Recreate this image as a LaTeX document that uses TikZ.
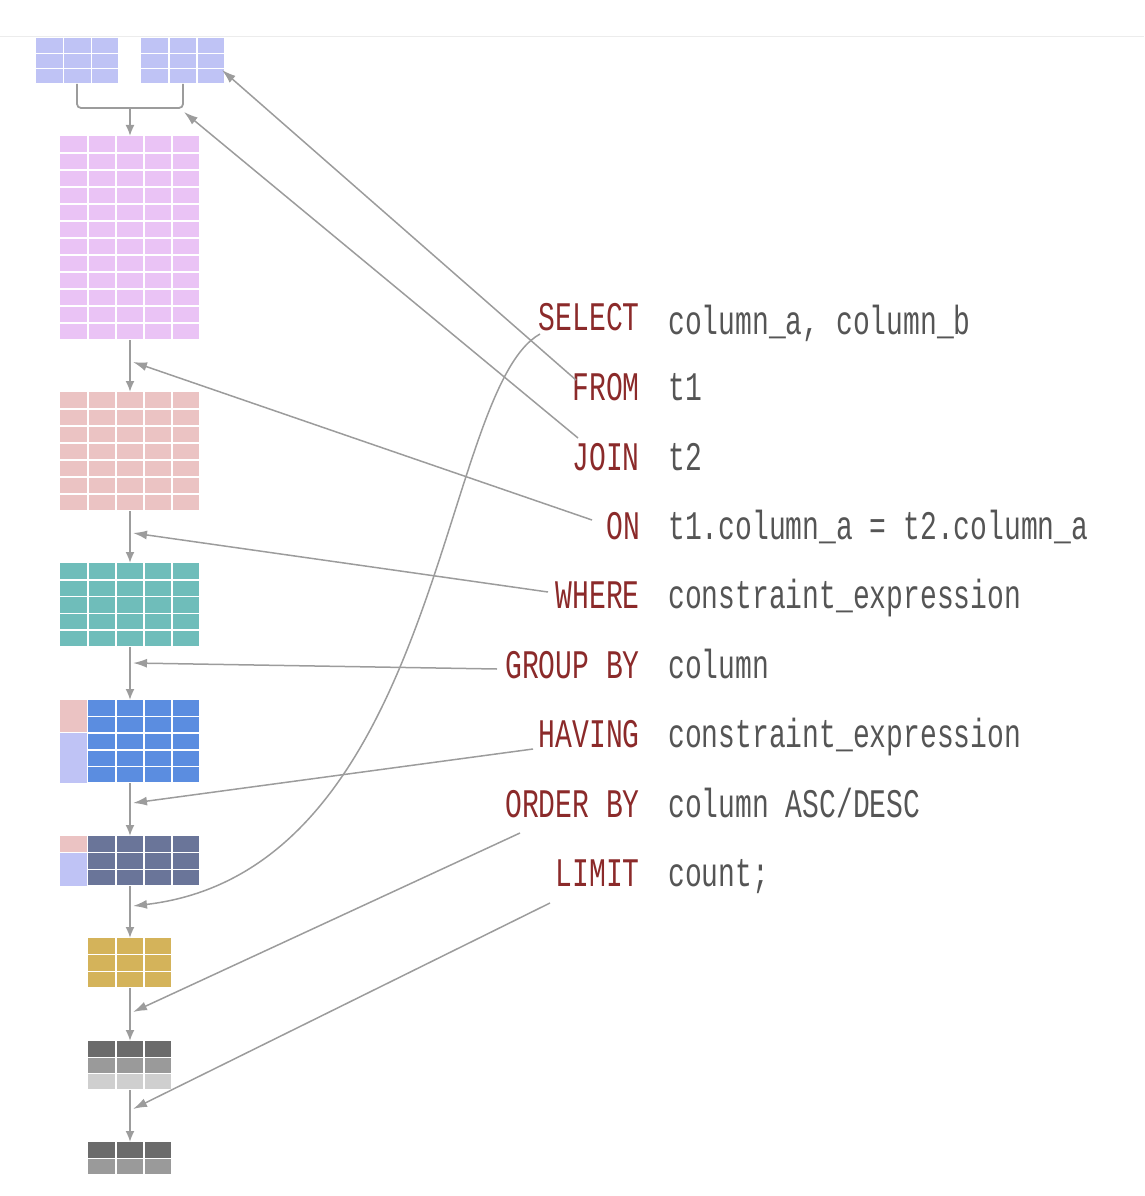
\documentclass[tikz,border=0pt]{standalone}
\usepackage{fontspec}
\setmonofont{Liberation Mono}
\usetikzlibrary{arrows.meta}
\definecolor{lav}{HTML}{BFC3F5}
\definecolor{pnk}{HTML}{EAC3F5}
\definecolor{sal}{HTML}{EBC3C3}
\definecolor{teal2}{HTML}{6FBDBA}
\definecolor{blu}{HTML}{5B8DE0}
\definecolor{slate}{HTML}{6A7599}
\definecolor{gold}{HTML}{D4B35A}
\definecolor{gA}{HTML}{6B6B6B}
\definecolor{gB}{HTML}{9A9A9A}
\definecolor{gC}{HTML}{CFCFCF}
\definecolor{arr}{HTML}{9C9C9C}
\definecolor{kwred}{HTML}{8B2A2A}
\definecolor{valg}{HTML}{555555}
% table: x, y, w, h, cols, rows, colour
\newcommand{\tbl}[7]{%
  \fill[#7] (#1,#2) rectangle ++(#3,#4);
  \foreach \i in {1,...,#5} \draw[white,line width=1.5pt] ({#1+\i*#3/#5},#2) -- ++(0,#4);
  \foreach \j in {1,...,#6} \draw[white,line width=1.5pt] (#1,{#2+\j*#4/#6}) -- ++(#3,0);
}
\newcommand{\qtxt}[1]{\scalebox{1}[1.45]{#1}}
\tikzset{
  kw/.style={anchor=base east, inner sep=0pt, text=kwred, font=\ttfamily\fontsize{28}{30}\selectfont},
  val/.style={anchor=base west, inner sep=0pt, text=valg, font=\ttfamily\fontsize{28}{30}\selectfont},
  flow/.style={arr, line width=1.8pt, -{Latex[length=11pt,width=9pt]}},
  link/.style={arr, line width=1.5pt, -{Latex[length=14pt,width=9pt]}}
}
\begin{document}
\begin{tikzpicture}[x=1pt,y=-1pt]
  \useasboundingbox (0,0) rectangle (1144,1196);
  \draw[gray!15] (0,36) -- (1144,36);

  % tables
  \tbl{36}{38}{83}{46}{3}{3}{lav}
  \tbl{141}{38}{84}{46}{3}{3}{lav}
  \tbl{60}{136}{140}{204}{5}{12}{pnk}
  \tbl{60}{392}{140}{119}{5}{7}{sal}
  \tbl{60}{563}{140}{84}{5}{5}{teal2}
  \fill[sal] (60,700) rectangle (87,732);
  \fill[lav] (60,733) rectangle (87,783);
  \tbl{88}{700}{112}{83}{4}{5}{blu}
  \fill[sal] (60,836) rectangle (87,852);
  \fill[lav] (60,853) rectangle (87,886);
  \tbl{88}{836}{112}{50}{4}{3}{slate}
  \tbl{88}{938}{84}{50}{3}{3}{gold}
  \fill[gA] (88,1041) rectangle (172,1057);
  \fill[gB] (88,1057) rectangle (172,1074);
  \fill[gC] (88,1074) rectangle (172,1090);
  \tbl{88}{1041}{84}{49}{3}{3}{white,opacity=0}
  \fill[gA] (88,1142) rectangle (172,1158);
  \fill[gB] (88,1158) rectangle (172,1175);
  \tbl{88}{1142}{84}{33}{3}{2}{white,opacity=0}

  % spine points
  \coordinate (t1) at (77,84);
  \coordinate (t2) at (183,84);
  \coordinate (mrg) at (130,108);
  \coordinate (s0) at (130,136);
  \coordinate (s1a) at (130,340); \coordinate (s1b) at (130,392);
  \coordinate (s2a) at (130,511); \coordinate (s2b) at (130,563);
  \coordinate (s3a) at (130,647); \coordinate (s3b) at (130,700);
  \coordinate (s4a) at (130,783); \coordinate (s4b) at (130,836);
  \coordinate (s5a) at (130,886); \coordinate (s5b) at (130,938);
  \coordinate (s6a) at (130,988); \coordinate (s6b) at (130,1041);
  \coordinate (s7a) at (130,1090); \coordinate (s7b) at (130,1142);

  \draw[arr, line width=1.8pt, rounded corners=4pt] (t1) |- (mrg) -| (t2);
  \draw[flow] (mrg) -- (s0);
  \foreach \k in {1,...,7} \draw[flow] (s\k a) -- (s\k b);

  % query text
  \node[kw] (select) at (640,330) {\qtxt{SELECT}};
  \node[val] (vselect) at (668,334) {\qtxt{column\_a, column\_b}};
  \node[kw] (from) at (640,400) {\qtxt{FROM}};
  \node[val] (vfrom) at (668,400) {\qtxt{t1}};
  \node[kw] (join) at (640,470) {\qtxt{JOIN}};
  \node[val] (vjoin) at (668,470) {\qtxt{t2}};
  \node[kw] (on) at (640,539) {\qtxt{ON}};
  \node[val] (von) at (668,539) {\qtxt{t1.column\_a = t2.column\_a}};
  \node[kw] (where) at (640,608) {\qtxt{WHERE}};
  \node[val] (vwhere) at (668,608) {\qtxt{constraint\_expression}};
  \node[kw] (group) at (640,678) {\qtxt{GROUP BY}};
  \node[val] (vgroup) at (668,678) {\qtxt{column}};
  \node[kw] (having) at (640,747) {\qtxt{HAVING}};
  \node[val] (vhaving) at (668,747) {\qtxt{constraint\_expression}};
  \node[kw] (order) at (640,817) {\qtxt{ORDER BY}};
  \node[val] (vorder) at (668,817) {\qtxt{column ASC/DESC}};
  \node[kw] (limit) at (640,886) {\qtxt{LIMIT}};
  \node[val] (vlimit) at (668,886) {\qtxt{count;}};

  % link ends
  \coordinate (selA) at (540,334);  \coordinate (selB) at (133,906);
  \coordinate (froA) at (576,380);  \coordinate (froB) at (222,70);
  \coordinate (joiA) at (578,438);  \coordinate (joiB) at (184,112);
  \coordinate (onA) at (592,520);   \coordinate (onB) at (133,362);
  \coordinate (whA) at (548,592);   \coordinate (whB) at (133,533);
  \coordinate (grA) at (497,669);   \coordinate (grB) at (133,663);
  \coordinate (haA) at (533,749);   \coordinate (haB) at (133,803);
  \coordinate (orA) at (520,833);   \coordinate (orB) at (133,1012);
  \coordinate (liA) at (550,903);   \coordinate (liB) at (133,1109);

  \draw[link] (selA) .. controls (440,390) and (440,870) .. (selB);
  \draw[link] (froA) -- (froB);
  \draw[link] (joiA) -- (joiB);
  \draw[link] (onA) -- (onB);
  \draw[link] (whA) -- (whB);
  \draw[link] (grA) -- (grB);
  \draw[link] (haA) -- (haB);
  \draw[link] (orA) -- (orB);
  \draw[link] (liA) -- (liB);
\end{tikzpicture}
\end{document}
